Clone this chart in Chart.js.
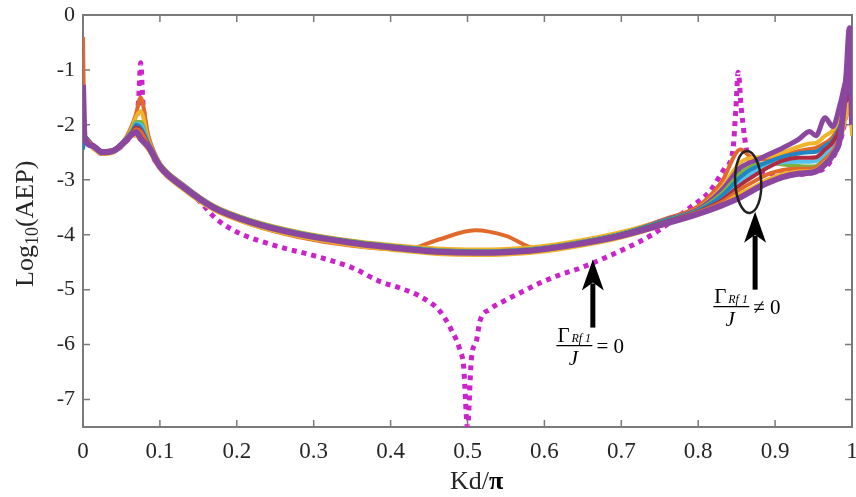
<!DOCTYPE html>
<html>
<head>
<meta charset="utf-8">
<script src="https://cdn.jsdelivr.net/npm/chart.js@4.4.1/dist/chart.umd.min.js"></script>
<style>
  body { margin: 0; background: #fff; }
  canvas { display: block; }
</style>
</head>
<body>
<canvas id="aep-chart" width="856" height="497"></canvas>
<script>
// Kd/pi sample positions shared by the family of curves
var xs = [0, 0.002, 0.012, 0.025, 0.04, 0.055, 0.064, 0.069, 0.075, 0.085,
          0.1, 0.13, 0.17, 0.22, 0.28, 0.35, 0.42, 0.46, 0.51, 0.55,
          0.59, 0.64, 0.7, 0.76, 0.8, 0.83, 0.855, 0.87, 0.89, 0.91,
          0.93, 0.945, 0.953, 0.965, 0.975, 0.985, 0.993, 0.997, 1];

// log10(AEP) for each curve of the family
var orangeA = [-0.4, -2.2, -2.36, -2.48, -2.45, -2.25, -2.0, -1.8, -1.5, -2.2,
               -2.7, -3.12, -3.53, -3.82, -4.04, -4.2, -4.27, -4.1, -3.92, -4.02,
               -4.25, -4.18, -3.98, -3.7, -3.48, -3.05, -2.45, -2.6, -2.63, -2.55,
               -2.48, -2.44, -2.42, -2.33, -2.22, -1.95, -1.5, -1.3, -2.1];
var yellowA = [-2.2, -2.21, -2.36, -2.48, -2.45, -2.26, -2.05, -1.85, -1.75, -2.28,
               -2.7, -3.08, -3.47, -3.74, -3.95, -4.11, -4.21, -4.25, -4.27, -4.26,
               -4.22, -4.12, -3.95, -3.71, -3.52, -3.15, -2.68, -2.6, -2.58, -2.5,
               -2.4, -2.34, -2.33, -2.2, -2.1, -1.85, -1.5, -1.4, -2.2];
var purpleA = [-2.2, -2.22, -2.37, -2.49, -2.46, -2.28, -2.12, -2.05, -2.1, -2.35,
               -2.73, -3.1, -3.49, -3.76, -3.97, -4.13, -4.24, -4.29, -4.31, -4.3,
               -4.26, -4.16, -3.99, -3.72, -3.54, -3.2, -2.78, -2.68, -2.55, -2.42,
               -2.27, -2.12, -2.2, -1.87, -2.03, -1.6, -1.2, -1.3, -2.0];
var greenA  = [-2.2, -2.21, -2.37, -2.49, -2.46, -2.27, -2.1, -1.95, -1.95, -2.32,
               -2.72, -3.1, -3.48, -3.75, -3.96, -4.12, -4.23, -4.28, -4.3, -4.29,
               -4.25, -4.15, -3.98, -3.73, -3.55, -3.26, -2.88, -2.75, -2.7, -2.72,
               -2.75, -2.76, -2.75, -2.6, -2.45, -2.15, -1.7, -1.5, -2.0];
var cyanA   = [-2.2, -2.21, -2.37, -2.49, -2.46, -2.28, -2.12, -1.98, -2.0, -2.33,
               -2.73, -3.1, -3.49, -3.76, -3.97, -4.13, -4.24, -4.29, -4.31, -4.3,
               -4.26, -4.16, -3.99, -3.75, -3.57, -3.34, -3.02, -2.88, -2.75, -2.68,
               -2.67, -2.67, -2.66, -2.52, -2.38, -2.1, -1.7, -1.5, -2.0];
var blueA   = [-2.45, -2.22, -2.37, -2.49, -2.46, -2.28, -2.13, -2.0, -2.05, -2.34,
               -2.73, -3.11, -3.49, -3.76, -3.97, -4.13, -4.24, -4.29, -4.31, -4.3,
               -4.26, -4.16, -3.99, -3.74, -3.56, -3.3, -2.95, -2.8, -2.68, -2.58,
               -2.52, -2.5, -2.49, -2.38, -2.28, -2.0, -1.6, -1.4, -2.0];
var redA    = [-2.2, -2.22, -2.37, -2.49, -2.46, -2.29, -2.14, -2.05, -2.1, -2.36,
               -2.74, -3.11, -3.5, -3.77, -3.98, -4.14, -4.25, -4.3, -4.32, -4.31,
               -4.27, -4.17, -4.0, -3.76, -3.58, -3.38, -3.09, -2.95, -2.78, -2.65,
               -2.6, -2.6, -2.59, -2.45, -2.32, -2.05, -1.65, -1.45, -2.0];
var orangeB = [-2.2, -2.22, -2.38, -2.5, -2.47, -2.3, -2.15, -2.08, -2.12, -2.37,
               -2.75, -3.12, -3.51, -3.78, -3.99, -4.15, -4.26, -4.31, -4.33, -4.32,
               -4.28, -4.18, -4.01, -3.77, -3.59, -3.41, -3.17, -3.05, -2.9, -2.82,
               -2.8, -2.8, -2.78, -2.63, -2.48, -2.2, -1.8, -1.6, -2.0];
var yellowB = [-2.2, -2.24, -2.41, -2.53, -2.5, -2.33, -2.2, -2.2, -2.28, -2.45,
               -2.8, -3.17, -3.55, -3.82, -4.03, -4.19, -4.3, -4.35, -4.37, -4.36,
               -4.32, -4.22, -4.05, -3.8, -3.6, -3.45, -3.25, -3.15, -3.0, -2.9,
               -2.85, -2.84, -2.82, -2.68, -2.52, -2.25, -1.8, -1.6, -2.0];
var purpleB = [-1.27, -2.22, -2.38, -2.5, -2.47, -2.3, -2.17, -2.13, -2.25, -2.4,
               -2.76, -3.13, -3.51, -3.78, -3.99, -4.15, -4.26, -4.31, -4.33, -4.32,
               -4.28, -4.18, -4.02, -3.79, -3.62, -3.47, -3.32, -3.2, -3.06, -2.95,
               -2.89, -2.87, -2.85, -2.72, -2.55, -2.2, -1.05, -0.24, -2.0];

// Gamma_Rf1 / J = 0 reference curve (dotted magenta)
var magX = [0.002, 0.025, 0.055, 0.066, 0.072, 0.075, 0.078, 0.085, 0.1, 0.13,
            0.15, 0.174, 0.2, 0.25, 0.3, 0.35, 0.386, 0.412, 0.438, 0.464,
            0.479, 0.49, 0.495, 0.5, 0.505, 0.512, 0.516, 0.529, 0.547, 0.568,
            0.594, 0.62, 0.646, 0.71, 0.74, 0.765, 0.79, 0.815, 0.835, 0.845,
            0.849, 0.852, 0.856, 0.865, 0.88, 0.92, 0.95, 0.975, 0.99, 1];
var magY = [-2.24, -2.52, -2.32, -2.05, -1.6, -0.87, -1.6, -2.32, -2.77, -3.14,
            -3.37, -3.72, -3.95, -4.2, -4.38, -4.6, -4.85, -4.97, -5.12, -5.39,
            -5.73, -6.09, -6.4, -7.5, -6.27, -5.91, -5.58, -5.36, -5.21, -5.06,
            -4.88, -4.73, -4.61, -4.22, -4.0, -3.76, -3.5, -3.21, -2.78, -2.48,
            -1.7, -1.04, -1.7, -2.6, -2.85, -2.9, -2.87, -2.6, -2.0, -1.0];

var xTicks = [0, 0.1, 0.2, 0.3, 0.4, 0.5, 0.6, 0.7, 0.8, 0.9, 1];
var yTicks = [0, -1, -2, -3, -4, -5, -6, -7];

var serif = '"Liberation Serif", "Times New Roman", serif';
var axisGray = '#7a7a7a';
var textCol = '#262626';

function pts(ys) {
    return xs.map(function (x, i) { return { x: x, y: ys[i] }; });
}

var magPts = magX.map(function (x, i) { return { x: x, y: magY[i] }; });

// curves in drawing order, the last one ends up on top
var family = [
    { d: orangeA, c: '#E2692C', w: 4 },
    { d: yellowA, c: '#F0B429', w: 4 },
    { d: purpleA, c: '#8B47A0', w: 5 },
    { d: greenA,  c: '#7DB241', w: 4 },
    { d: cyanA,   c: '#55C1EC', w: 4 },
    { d: blueA,   c: '#1F86C6', w: 4 },
    { d: redA,    c: '#B02A40', w: 4 },
    { d: orangeB, c: '#E2692C', w: 4 },
    { d: yellowB, c: '#F0B429', w: 4 },
    { d: purpleB, c: '#8B47A0', w: 6 }
];

var datasets = [{
    data: magPts,
    borderColor: '#CC22CC',
    borderWidth: 5,
    borderDash: [5, 5],
    borderCapStyle: 'butt',
    pointRadius: 0,
    cubicInterpolationMode: 'monotone',
    order: 100
}];
family.forEach(function (f, i) {
    datasets.push({
        data: pts(f.d),
        borderColor: f.c,
        borderWidth: f.w,
        pointRadius: 0,
        cubicInterpolationMode: 'monotone',
        order: 99 - i
    });
});

function drawArrow(ctx, x, yTip, yEnd) {
    ctx.fillStyle = '#000';
    ctx.fillRect(x - 2.5, yTip + 24, 5, yEnd - yTip - 24);
    ctx.beginPath();
    ctx.moveTo(x, yTip);
    ctx.lineTo(x + 11, yTip + 31);
    ctx.lineTo(x, yTip + 23);
    ctx.lineTo(x - 11, yTip + 31);
    ctx.closePath();
    ctx.fill();
}

function drawFraction(ctx, cx, ly, rel) {
    ctx.fillStyle = '#000';
    ctx.strokeStyle = '#000';
    ctx.lineWidth = 1.3;
    ctx.beginPath();
    ctx.moveTo(cx - 18, ly);
    ctx.lineTo(cx + 18, ly);
    ctx.stroke();
    ctx.textBaseline = 'alphabetic';
    ctx.textAlign = 'left';
    ctx.font = '21px ' + serif;
    ctx.fillText('\u0393', cx - 17, ly - 4);
    ctx.font = 'italic 12px ' + serif;
    ctx.fillText('Rf 1', cx - 3, ly - 4);
    ctx.font = 'italic 21px ' + serif;
    ctx.textAlign = 'center';
    ctx.fillText('J', cx - 1, ly + 19);
    ctx.textAlign = 'left';
    ctx.font = '21px ' + serif;
    ctx.fillText(rel + ' 0', cx + 22, ly + 7);
}

var overlay = {
    id: 'overlay',
    beforeDatasetsDraw: function (chart) {
        var ctx = chart.ctx, a = chart.chartArea;
        var sx = chart.scales.x, sy = chart.scales.y;
        ctx.save();
        ctx.strokeStyle = axisGray;
        ctx.lineWidth = 2;
        ctx.strokeRect(a.left, a.top, a.right - a.left, a.bottom - a.top);
        ctx.lineWidth = 1.5;
        ctx.beginPath();
        xTicks.forEach(function (v) {
            var px = sx.getPixelForValue(v);
            ctx.moveTo(px, a.bottom); ctx.lineTo(px, a.bottom - 7);
            ctx.moveTo(px, a.top); ctx.lineTo(px, a.top + 7);
        });
        yTicks.forEach(function (v) {
            var py = sy.getPixelForValue(v);
            ctx.moveTo(a.left, py); ctx.lineTo(a.left + 7, py);
            ctx.moveTo(a.right, py); ctx.lineTo(a.right - 7, py);
        });
        ctx.stroke();
        ctx.restore();
    },
    afterDatasetsDraw: function (chart) {
        var ctx = chart.ctx;
        var sx = chart.scales.x, sy = chart.scales.y;
        ctx.save();
        // arrows pointing at the two groups of curves
        drawArrow(ctx, sx.getPixelForValue(0.663), sy.getPixelForValue(-4.45), sy.getPixelForValue(-5.69));
        drawArrow(ctx, sx.getPixelForValue(0.874), sy.getPixelForValue(-3.58), sy.getPixelForValue(-5.0));
        // ellipse round the spread of curves
        ctx.strokeStyle = '#222';
        ctx.lineWidth = 2.5;
        ctx.beginPath();
        ctx.ellipse(sx.getPixelForValue(0.865), sy.getPixelForValue(-3.04), 13, 31, -0.05, 0, Math.PI * 2);
        ctx.stroke();
        drawFraction(ctx, sx.getPixelForValue(0.639), sy.getPixelForValue(-6.02), '=');
        drawFraction(ctx, sx.getPixelForValue(0.843), sy.getPixelForValue(-5.31), '\u2260');
        ctx.restore();

        // axis titles
        ctx.save();
        ctx.fillStyle = textCol;
        ctx.textBaseline = 'alphabetic';
        ctx.textAlign = 'left';
        ctx.translate(33, 287);
        ctx.rotate(-Math.PI / 2);
        ctx.font = '26px ' + serif;
        ctx.fillText('Log', 0, 0);
        var w = ctx.measureText('Log').width;
        ctx.font = '18px ' + serif;
        ctx.fillText('10', w, 5);
        w += ctx.measureText('10').width;
        ctx.font = '26px ' + serif;
        ctx.fillText('(AEP)', w, 0);
        ctx.restore();

        ctx.save();
        ctx.fillStyle = textCol;
        ctx.textBaseline = 'alphabetic';
        ctx.textAlign = 'left';
        ctx.font = '26px ' + serif;
        var t1 = 'Kd/';
        var w1 = ctx.measureText(t1).width;
        ctx.font = 'bold 26px ' + serif;
        var w2 = ctx.measureText('\u03c0').width;
        var x0 = (chart.chartArea.left + chart.chartArea.right) / 2 + 9 - (w1 + w2) / 2;
        ctx.font = '26px ' + serif;
        ctx.fillText(t1, x0, 489);
        ctx.font = 'bold 26px ' + serif;
        ctx.fillStyle = '#000';
        ctx.fillText('\u03c0', x0 + w1, 489);
        ctx.restore();
    }
};

var ctx = document.getElementById('aep-chart').getContext('2d');
var chart = new Chart(ctx, {
    type: 'line',
    data: { datasets: datasets },
    options: {
        responsive: false,
        animation: false,
        layout: { padding: { top: 15, right: 4, left: 0, bottom: 0 } },
        plugins: { legend: { display: false }, tooltip: { enabled: false } },
        scales: {
            x: {
                type: 'linear',
                min: 0,
                max: 1,
                grid: { display: false, drawTicks: false },
                border: { display: false },
                afterBuildTicks: function (s) {
                    s.ticks = xTicks.map(function (v) { return { value: v }; });
                },
                afterFit: function (s) {
                    s.height = 70;
                    s.paddingLeft = 0;
                    s.paddingRight = 0;
                },
                ticks: {
                    padding: 11,
                    maxRotation: 0,
                    autoSkip: false,
                    color: textCol,
                    font: { family: serif, size: 23 },
                    callback: function (v) { return String(+v.toFixed(1)); }
                }
            },
            y: {
                type: 'linear',
                min: -7.5,
                max: 0,
                grid: { display: false, drawTicks: false },
                border: { display: false },
                afterBuildTicks: function (s) {
                    s.ticks = yTicks.map(function (v) { return { value: v }; });
                },
                afterFit: function (s) {
                    s.width = 83;
                    s.paddingTop = 0;
                    s.paddingBottom = 0;
                },
                ticks: {
                    padding: 8,
                    autoSkip: false,
                    color: textCol,
                    font: { family: serif, size: 22 },
                    callback: function (v) { return String(v); }
                }
            }
        }
    },
    plugins: [overlay]
});
</script>
</body>
</html>
